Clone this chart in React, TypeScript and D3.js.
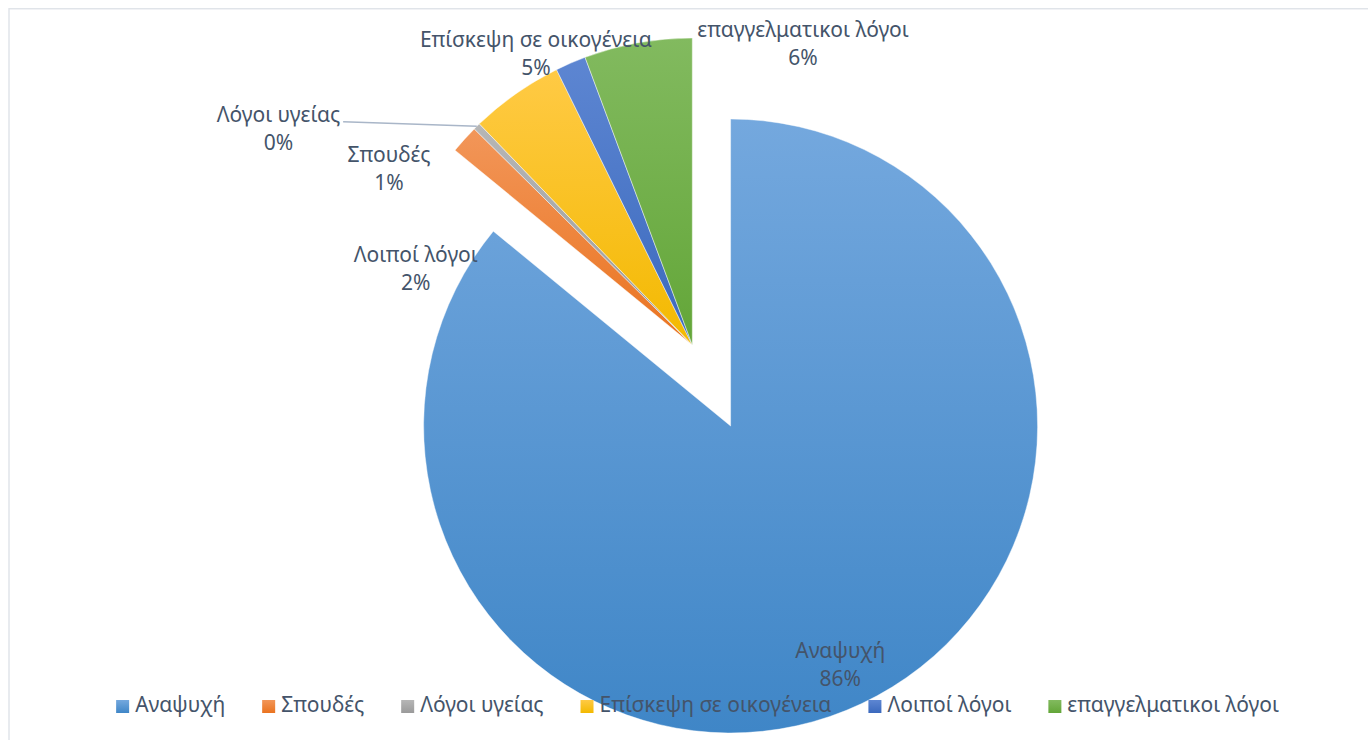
import React, { useMemo } from 'react';
import * as d3 from 'd3';

// ---- data ----
const categories = [
  'Αναψυχή',
  'Σπουδές',
  'Λόγοι υγείας',
  'Επίσκεψη σε οικογένεια',
  'Λοιποί λόγοι',
  'επαγγελματικοι λόγοι',
];
const shares = [85.94, 1.49, 0.37, 4.91, 1.61, 5.68];

// ---- styles ----
const colorTop = ['#74a8de', '#f29659', '#b6b6b6', '#ffca45', '#5d86d2', '#82ba5f'];
const colorBottom = ['#3f86c7', '#ea731f', '#9a9a9a', '#f3b900', '#3b69bd', '#63a638'];

// label layout: angle (deg, clockwise from 12 o'clock; null = slice bisector) and distance in radii
const labelAngles: (number | null)[] = [null, 301.1, 298.3, 332.3, 286.8, 19.8];
const labelRadii = [0.836, 1.154, 1.531, 1.096, 0.941, 1.065];
const labelLeader = [false, false, true, false, false, false];

const W = 1368;
const H = 740;
const CX = 692.3;
const CY = 345;
const R = 307;
const EXPLODE = 89.6;
const FONT = "'Noto Sans', sans-serif";
const FS = 21;
const LINE = 28;
const TEXT = '#44546a';

function measure(s: string): number {
  const c = document.createElement('canvas').getContext('2d');
  if (!c) return s.length * FS * 0.5;
  c.font = `${FS}px "Noto Sans"`;
  return c.measureText(s).width;
}

function polar(cx: number, cy: number, ang: number, r: number): [number, number] {
  return [cx + Math.sin(ang) * r, cy - Math.cos(ang) * r];
}

export default function App() {
  const data = categories.map((c, i) => ({ name: c, value: shares[i], i }));
  const total = d3.sum(shares);
  const arcs = useMemo(
    () => d3.pie<any>().sort(null).value((d: any) => d.value)(data),
    []
  );
  const arcGen = d3.arc<any>().innerRadius(0).outerRadius(R);

  const slices = arcs.map((a, i) => {
    const mid = (a.startAngle + a.endAngle) / 2;
    const off = i === 0 ? EXPLODE : 0;
    const cx = CX + Math.sin(mid) * off;
    const cy = CY - Math.cos(mid) * off;
    return { a, i, mid, cx, cy };
  });

  // legend layout
  const gap = 37;
  const sq = 13;
  const sqGap = 6;
  const widths = categories.map(measure);
  const itemW = widths.map((w) => sq + sqGap + w);
  const legendTotal = d3.sum(itemW) + gap * (categories.length - 1);
  let lx = 697.5 - legendTotal / 2;
  const legendX = itemW.map((w) => {
    const x = lx;
    lx += w + gap;
    return x;
  });
  const legendY = 712;

  return (
    <svg
      width={W}
      height={H}
      style={{ position: 'absolute', left: 0, top: 0, background: '#fff' }}
      fontFamily={FONT}
    >
      <defs>
        {categories.map((_, i) => (
          <linearGradient key={i} id={`g${i}`} x1="0" y1="0" x2="0" y2="1">
            <stop offset="0" stopColor={colorTop[i]} />
            <stop offset="1" stopColor={colorBottom[i]} />
          </linearGradient>
        ))}
      </defs>
      <rect x={9} y={8.75} width={W + 20} height={H + 20} fill="#fff" stroke="#dfe3e9" strokeWidth={1.4} />

      {slices.map((s) => (
        <path
          key={s.i}
          d={arcGen(s.a) || ''}
          transform={`translate(${s.cx},${s.cy})`}
          fill={`url(#g${s.i})`}
          stroke="#ffffff"
          strokeOpacity={0.55}
          strokeWidth={0.8}
        />
      ))}

      {slices.map((s) => {
        const ang = labelAngles[s.i] === null ? s.mid : ((labelAngles[s.i] as number) * Math.PI) / 180;
        const [x, y] = polar(s.cx, s.cy, ang, labelRadii[s.i] * R);
        const pct = `${Math.round((shares[s.i] / total) * 100)}%`;
        let leader = null;
        if (labelLeader[s.i]) {
          const [ex, ey] = polar(s.cx, s.cy, s.mid, R);
          const sx = x + widths[s.i] / 2 + 3;
          leader = (
            <line x1={sx} y1={y - 0.5} x2={ex} y2={ey} stroke="#a9b6c8" strokeWidth={1.5} />
          );
        }
        return (
          <g key={`l${s.i}`}>
            {leader}
            <text textAnchor="middle" fontSize={FS} fill={TEXT}>
              <tspan x={x} y={y}>{categories[s.i]}</tspan>
              <tspan x={x} y={y + LINE}>{pct}</tspan>
            </text>
          </g>
        );
      })}

      {categories.map((c, i) => (
        <g key={`lg${i}`}>
          <rect x={legendX[i]} y={legendY - 12} width={sq} height={sq} fill={`url(#g${i})`} />
          <text x={legendX[i] + sq + sqGap} y={legendY} fontSize={FS} fill={TEXT}>
            {c}
          </text>
        </g>
      ))}
    </svg>
  );
}
